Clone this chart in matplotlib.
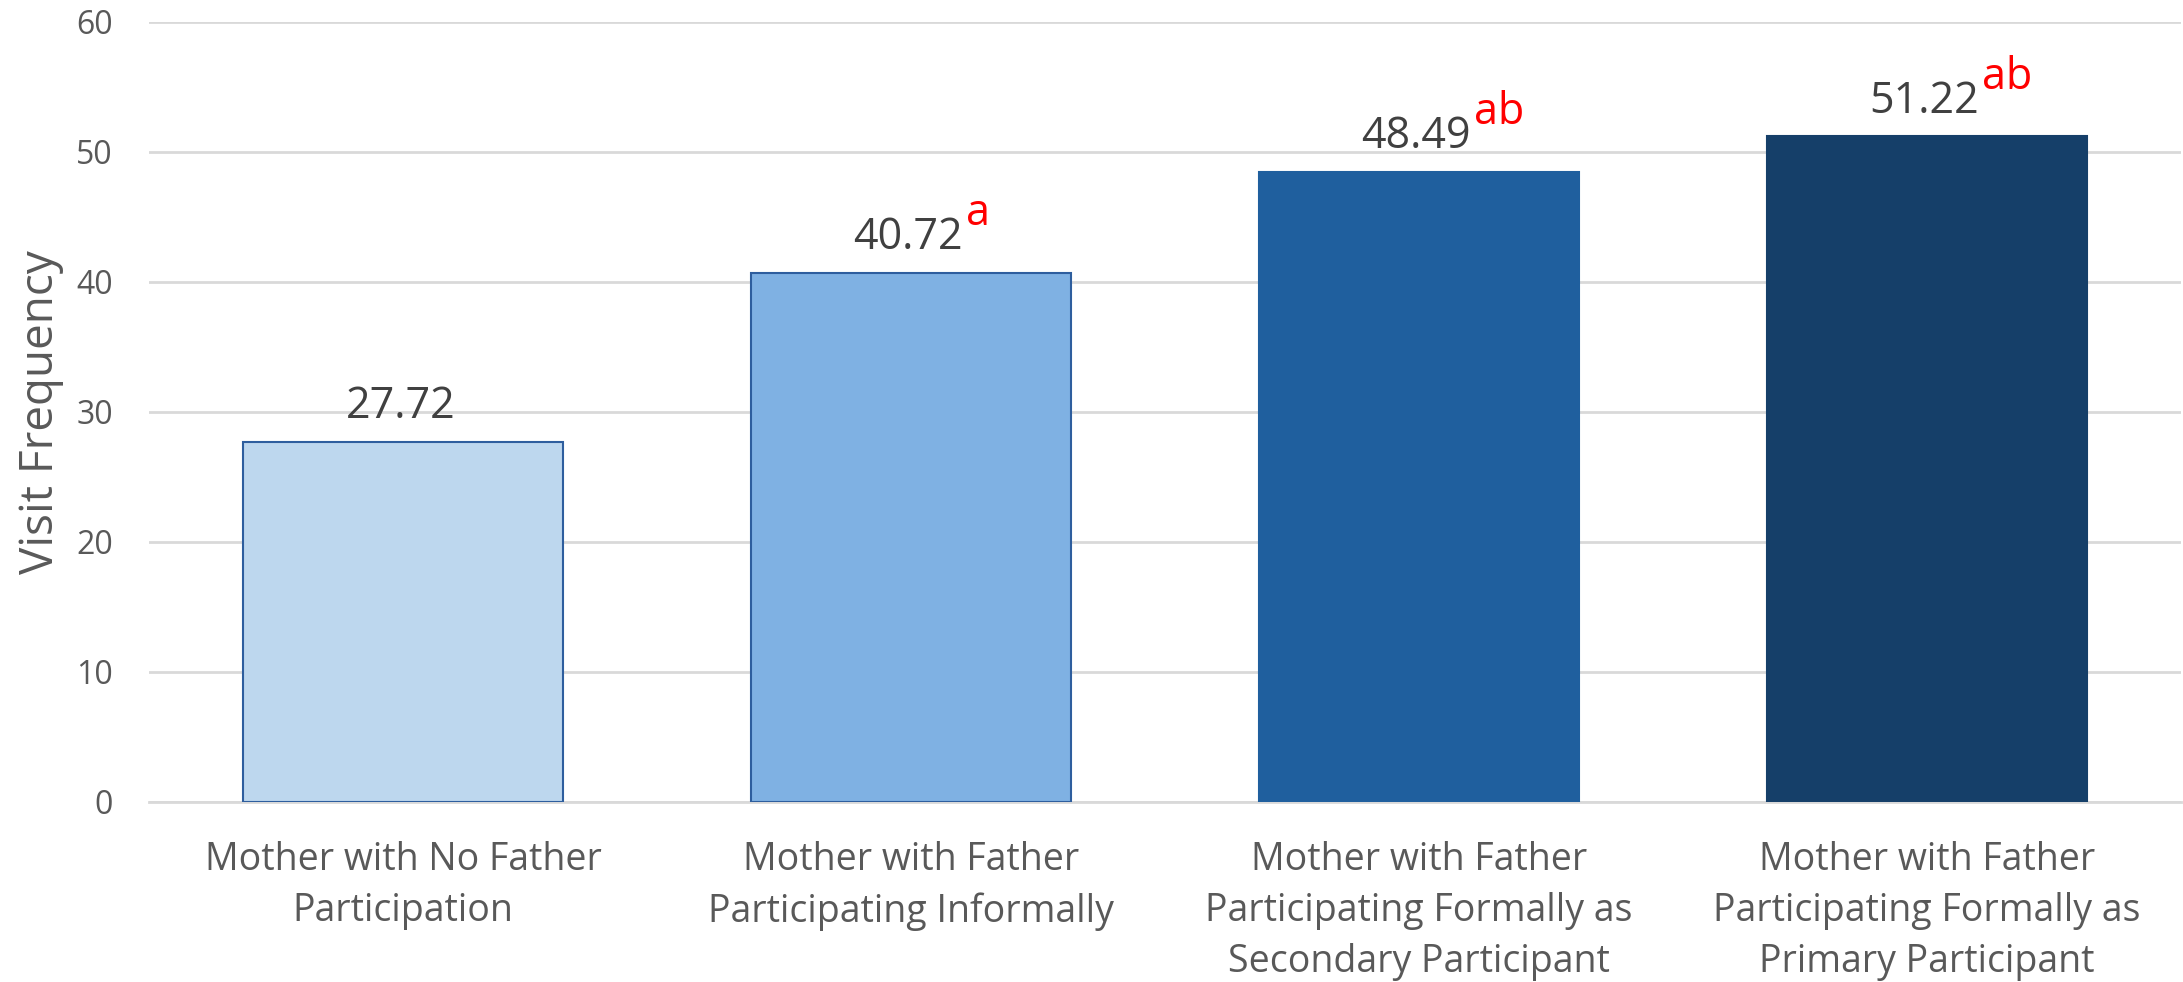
import numpy as np
import matplotlib.pyplot as plt

plt.rcParams['font.family'] = ['Open Sans', 'DejaVu Sans']

## the data
groups = ['Mother with No Father\nParticipation',
          'Mother with Father\nParticipating Informally',
          'Mother with Father\nParticipating Formally as\nSecondary Participant',
          'Mother with Father\nParticipating Formally as\nPrimary Participant']
visits = [27.72, 40.72, 48.49, 51.22]
sig = ['', 'a', 'ab', 'ab']
yticks = [0, 10, 20, 30, 40, 50, 60]

colors = ['#BDD7EE', '#7FB1E3', '#1F5F9E', '#153F69']
edges = ['#2E5E9E', '#2E5E9E', '#1F5F9E', '#153F69']

fig = plt.figure(figsize=(21.83, 9.82), dpi=100)
ax = fig.add_axes([0.0683, 0.1833, 0.9307, 0.7943])

ind = np.arange(len(visits))
width = 0.63

bars = ax.bar(ind, visits, width, color=colors, edgecolor=edges, linewidth=1.5, zorder=3)

# axes and labels
ax.set_xlim(-0.5, len(ind) - 0.5)
ax.set_ylim(0, 60)
ax.set_yticks(yticks)
ax.yaxis.grid(True, color='#D9D9D9', linewidth=2, zorder=0)
for s in ['top', 'right', 'left']:
    ax.spines[s].set_visible(False)
ax.spines['bottom'].set_color('#D9D9D9')
ax.spines['bottom'].set_linewidth(2)
ax.tick_params(axis='y', length=0, pad=26, labelsize=23, labelcolor='#595959')
ax.tick_params(axis='x', length=0, pad=28, labelsize=27, labelcolor='#595959')
ax.set_xticks(ind)
ax.set_xticklabels(groups, linespacing=1.45)
ax.set_ylabel('Visit Frequency', fontsize=33, color='#595959')
ax.yaxis.set_label_coords(-0.042, 0.5)

## value labels with significance letters
for i, v in enumerate(visits):
    t = ax.annotate('%.2f' % v, xy=(i, v), xytext=(-2, 17), textcoords='offset points',
                    ha='center', va='baseline', fontsize=31, color='#404040')
    if sig[i]:
        ax.annotate(sig[i], xy=(1, 0), xycoords=t, xytext=(2, 17),
                    textcoords='offset points', ha='left', va='bottom',
                    fontsize=31, color='#FF0000')

fig.savefig('out.png', dpi=100)
